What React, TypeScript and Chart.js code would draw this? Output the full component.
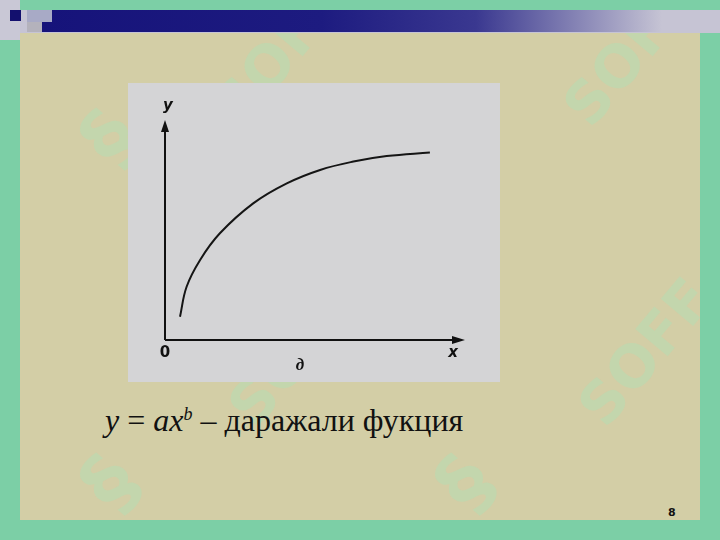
import React, { useEffect, useRef } from "react";
import { Chart, registerables } from "chart.js";

Chart.register(...registerables);

// Curve y = a·x^b (data units: x 0..10, y 0..10)
const curveX = [0.5, 0.72, 1.17, 1.83, 2.94, 4.06, 5.17, 6.28, 7.39, 8.83];
const curveY = [1.06, 2.42, 3.64, 4.85, 6.21, 7.12, 7.73, 8.11, 8.36, 8.52];
const axisMax = [10, 10];
const axisLabels = { x: "x", y: "y", origin: "0", figure: "д" };
const caption = { lhs: "y", eq: " = ", ax: "ax", sup: "b", rest: " – даражали фукция" };
const pageNumber = "8";

const watermarks = [
  { left: 70, top: 65, text: "§" },
  { left: 175, top: -10, text: "SOFF", small: true },
  { left: 425, top: 65, text: "§" },
  { left: 525, top: -10, text: "SOFF", small: true },
  { left: 190, top: 290, text: "SOFF", small: true },
  { left: 540, top: 290, text: "SOFF", small: true },
  { left: 70, top: 410, text: "§" },
  { left: 425, top: 410, text: "§" },
];

export default function App() {
  const ref = useRef<HTMLCanvasElement | null>(null);

  useEffect(() => {
    document.body.style.margin = "0";
    const canvas = ref.current;
    if (!canvas) return;

    const axesPlugin = {
      id: "axesPlugin",
      beforeDraw(chart: any) {
        const c = chart.ctx;
        c.save();
        c.fillStyle = "#d4d4d6";
        c.fillRect(0, 0, chart.width, chart.height);
        c.restore();
      },
      afterDraw(chart: any) {
        const c = chart.ctx;
        const xs = chart.scales.x;
        const ys = chart.scales.y;
        const ox = xs.getPixelForValue(0);
        const oy = ys.getPixelForValue(0);
        const xe = xs.getPixelForValue(axisMax[0]);
        const ye = ys.getPixelForValue(axisMax[1]);
        c.save();
        c.strokeStyle = "#111";
        c.fillStyle = "#111";
        c.lineWidth = 2;
        c.beginPath();
        c.moveTo(ox, oy);
        c.lineTo(ox, ye + 6);
        c.moveTo(ox, oy);
        c.lineTo(xe - 6, oy);
        c.stroke();
        // arrows
        c.beginPath();
        c.moveTo(ox, ye);
        c.lineTo(ox - 4, ye + 12);
        c.lineTo(ox + 4, ye + 12);
        c.closePath();
        c.fill();
        c.beginPath();
        c.moveTo(xe, oy);
        c.lineTo(xe - 13, oy - 4);
        c.lineTo(xe - 13, oy + 4);
        c.closePath();
        c.fill();
        // labels
        c.textAlign = "center";
        c.textBaseline = "middle";
        c.font = "italic bold 15px 'DejaVu Sans'";
        c.fillText(axisLabels.y, ox + 3, ye - 14);
        c.fillText(axisLabels.x, xe - 12, oy + 13);
        c.font = "bold 15px 'DejaVu Sans'";
        c.fillText(axisLabels.origin, ox, oy + 13);
        c.font = "italic bold 17px 'Liberation Serif'";
        c.fillText(axisLabels.figure, xs.getPixelForValue(4.5), oy + 26);
        c.restore();
      },
    };

    const chart = new Chart(canvas, {
      type: "scatter",
      data: {
        datasets: [
          {
            data: curveX.map((x, i) => ({ x, y: curveY[i] })),
            showLine: true,
            borderColor: "#151515",
            borderWidth: 2,
            pointRadius: 0,
            tension: 0.4,
            fill: false,
          },
        ],
      },
      options: {
        animation: false,
        responsive: false,
        layout: { padding: { left: 37, right: 35, top: 37, bottom: 42 } },
        plugins: { legend: { display: false }, tooltip: { enabled: false } },
        scales: {
          x: { type: "linear", min: 0, max: axisMax[0], display: false },
          y: { type: "linear", min: 0, max: axisMax[1], display: false },
        },
      },
      plugins: [axesPlugin],
    });
    return () => chart.destroy();
  }, []);

  return (
    <div
      style={{
        position: "fixed",
        left: 0,
        top: 0,
        width: 720,
        height: 540,
        background: "#7ccfa6",
        overflow: "hidden",
      }}
    >
      {/* left lavender column top */}
      <div style={{ position: "absolute", left: 0, top: 0, width: 20, height: 40, background: "#c9c8d6" }} />
      {/* lavender strip */}
      <div style={{ position: "absolute", left: 20, top: 10, width: 700, height: 23, background: "#c6c4d4" }} />
      {/* navy bar with fade */}
      <div
        style={{
          position: "absolute",
          left: 42,
          top: 10,
          width: 620,
          height: 22,
          background: "linear-gradient(to right, #16137a 0%, #1d1b80 45%, #3a3890 70%, #c6c4d4 100%)",
        }}
      />
      <div style={{ position: "absolute", left: 27, top: 10, width: 25, height: 12, background: "#a8aac6" }} />
      <div style={{ position: "absolute", left: 27, top: 22, width: 15, height: 10, background: "#b4b2bc" }} />
      <div style={{ position: "absolute", left: 10, top: 10, width: 11, height: 11, background: "#13106e" }} />
      {/* beige panel */}
      <div
        style={{
          position: "absolute",
          left: 20,
          top: 33,
          width: 680,
          height: 487,
          background: "#d3cea6",
          overflow: "hidden",
        }}
      >
        {watermarks.map((w, i) => (
          <div
            key={i}
            style={{
              position: "absolute",
              left: w.left,
              top: w.top,
              fontFamily: "'DejaVu Sans'",
              fontWeight: "bold",
              fontSize: w.small ? 58 : 80,
              color: "rgba(165,230,185,0.35)",
              transform: "rotate(-50deg)",
              lineHeight: 1,
              whiteSpace: "nowrap",
            }}
          >
            {w.text}
          </div>
        ))}
      </div>
      <canvas
        ref={ref}
        width={372}
        height={299}
        style={{ position: "absolute", left: 128, top: 83, width: 372, height: 299 }}
      />
      <div
        style={{
          position: "absolute",
          left: 105,
          top: 401,
          fontFamily: "'Liberation Serif'",
          fontSize: 32,
          color: "#111",
          whiteSpace: "nowrap",
          lineHeight: 1.2,
        }}
      >
        <i>{caption.lhs}</i>
        {caption.eq}
        <i>{caption.ax}</i>
        <sup style={{ fontSize: 18, fontStyle: "italic", verticalAlign: 11 }}>{caption.sup}</sup>
        {caption.rest}
      </div>
      <div
        style={{
          position: "absolute",
          left: 668,
          top: 506,
          fontFamily: "'DejaVu Sans'",
          fontWeight: "bold",
          fontSize: 11,
          color: "#111",
        }}
      >
        {pageNumber}
      </div>
    </div>
  );
}
